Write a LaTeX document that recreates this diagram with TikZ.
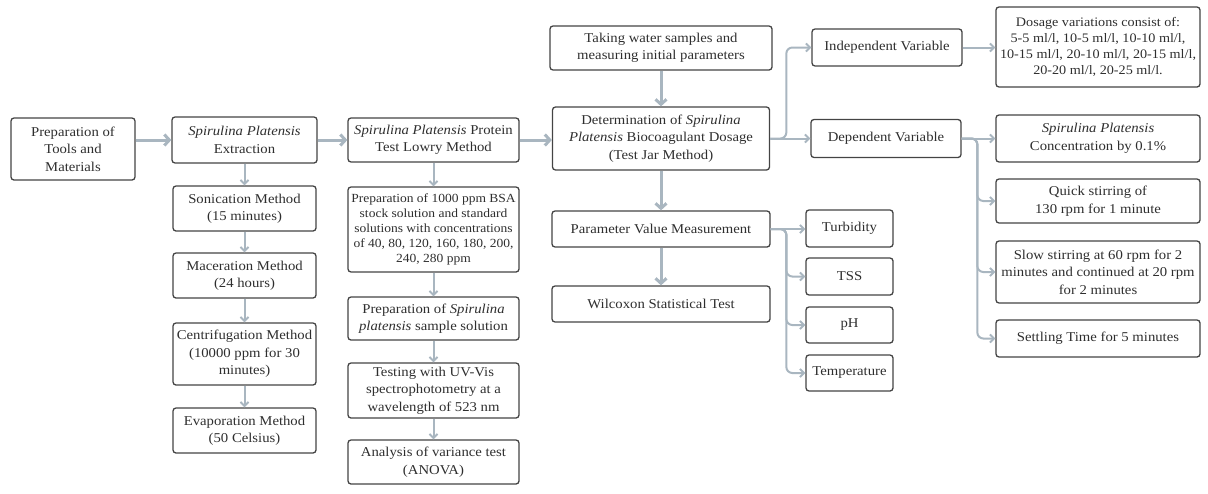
\documentclass[tikz,border=0pt]{standalone}
\usepackage{fontspec}
\setmainfont{Liberation Serif}[FakeStretch=1.09]
\usetikzlibrary{arrows.meta,calc}
\definecolor{arrowc}{HTML}{A9B6C0}
\definecolor{bord}{HTML}{444444}
\definecolor{txt}{HTML}{2E2E2E}
\begin{document}
\begin{tikzpicture}[x=1pt,y=-1pt,
  box/.style={draw=bord, line width=1.3pt, rounded corners=3pt, align=center, inner sep=1pt, text=txt, font=\fontsize{13.5}{17.5}\selectfont},
  sbox/.style={box, font=\fontsize{12.4}{15}\selectfont},
  bigarrow/.style={draw=arrowc, line width=3pt, -{Straight Barb[length=5pt,width=11pt]}},
  thinarrow/.style={draw=arrowc, line width=2pt, -{Straight Barb[length=4pt,width=8pt]}},
]
\useasboundingbox (0,0) rectangle (1208,493);
% column 1
\node[box, minimum width=124pt, minimum height=62pt] (prep) at (73,149) {Preparation of\\Tools and\\Materials};
% column 2
\node[box, minimum width=145pt, minimum height=46pt] (extr) at (244.5,140) {\textit{Spirulina Platensis}\\Extraction};
\node[box, minimum width=143pt, minimum height=45pt] (son) at (244.5,208.5) {Sonication Method\\(15 minutes)};
\node[box, minimum width=143pt, minimum height=45pt] (mac) at (244.5,275.5) {Maceration Method\\(24 hours)};
\node[box, minimum width=143pt, minimum height=62pt] (cen) at (244.5,354) {Centrifugation Method\\(10000 ppm for 30\\minutes)};
\node[box, minimum width=143pt, minimum height=45pt] (eva) at (244.5,430.5) {Evaporation Method\\(50 Celsius)};
% column 3
\node[box, minimum width=171pt, minimum height=44pt] (lowry) at (433.5,140) {\textit{Spirulina Platensis} Protein\\Test Lowry Method};
\node[sbox, minimum width=171pt, minimum height=85pt] (bsa) at (433.5,229.5) {Preparation of 1000 ppm BSA\\stock solution and standard\\solutions with concentrations\\of 40, 80, 120, 160, 180, 200,\\240, 280 ppm};
\node[box, minimum width=171pt, minimum height=43pt] (samp) at (433.5,318.5) {Preparation of \textit{Spirulina}\\\textit{platensis} sample solution};
\node[box, minimum width=171pt, minimum height=55pt] (uv) at (433.5,390.5) {Testing with UV-Vis\\spectrophotometry at a\\wavelength of 523 nm};
\node[box, minimum width=171pt, minimum height=44pt] (anova) at (433.5,462) {Analysis of variance test\\(ANOVA)};
% column 4
\node[box, minimum width=222pt, minimum height=44pt] (take) at (661,48) {Taking water samples and\\measuring initial parameters};
\node[box, minimum width=217pt, minimum height=63pt] (det) at (661,138.5) {Determination of \textit{Spirulina}\\\textit{Platensis} Biocoagulant Dosage\\(Test Jar Method)};
\node[box, minimum width=218pt, minimum height=36pt] (pvm) at (661,229) {Parameter Value Measurement};
\node[box, minimum width=218pt, minimum height=36pt] (wil) at (661,304) {Wilcoxon Statistical Test};
% column 5
\node[box, minimum width=150pt, minimum height=37pt] (indep) at (887,47.5) {Independent Variable};
\node[box, minimum width=150pt, minimum height=38pt] (dep) at (886,138.5) {Dependent Variable};
\node[box, minimum width=87pt, minimum height=37pt] (turb) at (849.5,228.5) {Turbidity};
\node[box, minimum width=87pt, minimum height=37pt] (tss) at (849.5,276.5) {TSS};
\node[box, minimum width=87pt, minimum height=36pt] (ph) at (849.5,325) {pH};
\node[box, minimum width=87pt, minimum height=36pt] (temp) at (849.5,373) {Temperature};
% column 6
\node[sbox, font=\fontsize{13}{16}\selectfont, minimum width=204pt, minimum height=80pt] (dos) at (1098,47) {Dosage variations consist of:\\5-5 ml/l, 10-5 ml/l, 10-10 ml/l,\\10-15 ml/l, 20-10 ml/l, 20-15 ml/l,\\20-20 ml/l, 20-25 ml/l.};
\node[box, minimum width=204pt, minimum height=47pt] (conc) at (1098,138.5) {\textit{Spirulina Platensis}\\Concentration by 0.1\%};
\node[box, minimum width=204pt, minimum height=44pt] (quick) at (1098,201) {Quick stirring of\\130 rpm for 1 minute};
\node[box, minimum width=204pt, minimum height=62pt] (slow) at (1098,272) {Slow stirring at 60 rpm for 2\\minutes and continued at 20 rpm\\for 2 minutes};
\node[box, minimum width=204pt, minimum height=37pt] (settle) at (1098,338.5) {Settling Time for 5 minutes};
% main arrows
\draw[bigarrow] (prep.east |- extr.west) -- (extr.west);
\draw[bigarrow] (extr) -- (lowry);
\draw[bigarrow] (lowry.east) -- (lowry.east -| det.west);
\draw[bigarrow] (take) -- (det);
\draw[bigarrow] (det) -- (pvm);
\draw[bigarrow] (pvm) -- (wil);
% column arrows
\draw[thinarrow] (extr) -- (son);
\draw[thinarrow] (son) -- (mac);
\draw[thinarrow] (mac) -- (cen);
\draw[thinarrow] (cen) -- (eva);
\draw[thinarrow] (lowry) -- (bsa);
\draw[thinarrow] (bsa) -- (samp);
\draw[thinarrow] (samp) -- (uv);
\draw[thinarrow] (uv) -- (anova);
% branches
\draw[thinarrow, rounded corners=6pt] (det.east) -| ([xshift=-25pt]indep.west) -- (indep.west);
\draw[thinarrow] (det.east) -- (det.east -| dep.west);
\draw[thinarrow] (indep.east) -- (indep.east -| dos.west);
\draw[thinarrow] (dep.east) -- (dep.east -| conc.west);
\draw[thinarrow, rounded corners=6pt] (dep.east) -| ([xshift=-18pt]quick.west) -- (quick.west);
\draw[thinarrow, rounded corners=6pt] (dep.east) -| ([xshift=-18pt]slow.west) -- (slow.west);
\draw[thinarrow, rounded corners=6pt] (dep.east) -| ([xshift=-18pt]settle.west) -- (settle.west);
\draw[thinarrow] (pvm.east) -- (pvm.east -| turb.west);
\draw[thinarrow, rounded corners=6pt] (pvm.east) -| ([xshift=-19pt]tss.west) -- (tss.west);
\draw[thinarrow, rounded corners=6pt] (pvm.east) -| ([xshift=-19pt]ph.west) -- (ph.west);
\draw[thinarrow, rounded corners=6pt] (pvm.east) -| ([xshift=-19pt]temp.west) -- (temp.west);
\end{tikzpicture}
\end{document}
